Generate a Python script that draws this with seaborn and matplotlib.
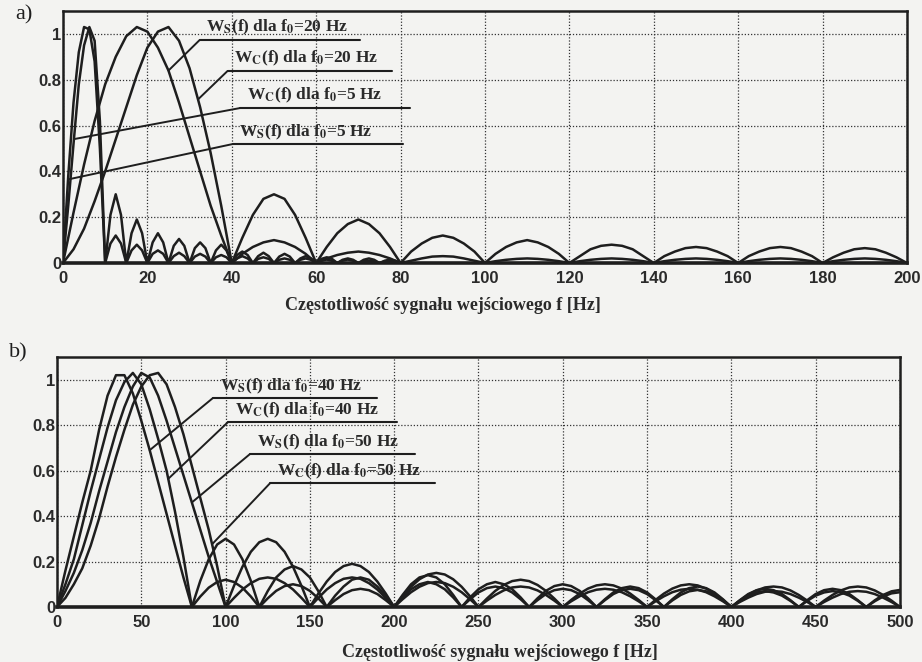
import numpy as np
import matplotlib
matplotlib.use('Agg')
import matplotlib.pyplot as plt
import seaborn as sns

# --- panel a): f0 = 20 Hz, sampled every 2.5 Hz from 0 to 200 Hz
f_a20 = np.arange(0, 200.1, 2.5)
ws_20 = [
    0, 0.22, 0.43, 0.62, 0.78, 0.9, 0.99, 1.03, 1.01, 0.94, 0.84, 0.7, 0.55, 0.4, 0.25, 0.12, 0,
    0.11, 0.21, 0.28, 0.30, 0.28, 0.21, 0.11, 0,
    0.07, 0.13, 0.17, 0.19, 0.17, 0.13, 0.07, 0,
    0.05, 0.085, 0.11, 0.12, 0.11, 0.085, 0.05, 0,
    0.04, 0.07, 0.09, 0.10, 0.09, 0.07, 0.04, 0,
    0.03, 0.06, 0.075, 0.08, 0.075, 0.06, 0.03, 0,
    0.03, 0.05, 0.065, 0.07, 0.065, 0.05, 0.03, 0,
    0.03, 0.05, 0.065, 0.07, 0.065, 0.05, 0.03, 0,
    0.025, 0.045, 0.06, 0.065, 0.06, 0.045, 0.025, 0,
]
wc_20 = [
    0, 0.06, 0.15, 0.27, 0.4, 0.54, 0.68, 0.82, 0.94, 1.01, 1.03, 0.97, 0.85, 0.68, 0.48, 0.25, 0,
    0.04, 0.07, 0.09, 0.10, 0.09, 0.07, 0.04, 0,
    0.02, 0.035, 0.045, 0.05, 0.045, 0.035, 0.02, 0,
    0.01, 0.02, 0.028, 0.03, 0.028, 0.02, 0.01, 0,
    0.008, 0.014, 0.018, 0.02, 0.018, 0.014, 0.008, 0,
    0.008, 0.014, 0.018, 0.02, 0.018, 0.014, 0.008, 0,
    0.008, 0.014, 0.018, 0.02, 0.018, 0.014, 0.008, 0,
    0.008, 0.014, 0.018, 0.02, 0.018, 0.014, 0.008, 0,
    0.008, 0.014, 0.018, 0.02, 0.018, 0.014, 0.008, 0,
]

# --- panel a): f0 = 5 Hz, sampled every 1.25 Hz from 0 to 80 Hz
f_a5 = np.arange(0, 80.1, 1.25)
ws_5 = [
    0, 0.38, 0.7, 0.92, 1.03, 1.02, 0.88, 0.5, 0,
    0.21, 0.30, 0.21, 0,
    0.13, 0.19, 0.13, 0,
    0.09, 0.13, 0.09, 0,
    0.075, 0.105, 0.075, 0,
    0.065, 0.09, 0.065, 0,
    0.055, 0.08, 0.055, 0,
    0.035, 0.05, 0.035, 0,
    0.03, 0.045, 0.03, 0,
    0.028, 0.04, 0.028, 0,
    0.02, 0.03, 0.02, 0,
    0.018, 0.025, 0.018, 0,
    0.014, 0.02, 0.014, 0,
    0.014, 0.02, 0.014, 0,
    0.01, 0.015, 0.01, 0,
]
wc_5 = [
    0, 0.25, 0.52, 0.78, 0.95, 1.03, 0.97, 0.62, 0,
    0.085, 0.12, 0.085, 0,
    0.055, 0.08, 0.055, 0,
    0.04, 0.055, 0.04, 0,
    0.03, 0.045, 0.03, 0,
    0.028, 0.04, 0.028, 0,
    0.025, 0.035, 0.025, 0,
    0.02, 0.03, 0.02, 0,
    0.018, 0.025, 0.018, 0,
    0.014, 0.02, 0.014, 0,
    0.014, 0.02, 0.014, 0,
    0.01, 0.015, 0.01, 0,
    0.01, 0.015, 0.01, 0,
    0.007, 0.01, 0.007, 0,
    0.007, 0.01, 0.007, 0,
]

# --- panel b): f0 = 40 Hz and 50 Hz, sampled every 5 Hz from 0 to 500 Hz
f_b = np.arange(0, 500.1, 5)
ws_40 = [
    0, 0.16, 0.31, 0.46, 0.6, 0.78, 0.93, 1.02, 1.02, 0.94, 0.82, 0.69, 0.55, 0.41, 0.27, 0.13, 0,
    0.115, 0.21, 0.275, 0.30, 0.275, 0.21, 0.115, 0,
    0.07, 0.13, 0.165, 0.18, 0.165, 0.13, 0.07, 0,
    0.05, 0.09, 0.12, 0.13, 0.12, 0.09, 0.05, 0,
    0.053, 0.1, 0.13, 0.14, 0.13, 0.1, 0.053, 0,
    0.042, 0.078, 0.1, 0.11, 0.1, 0.078, 0.042, 0,
    0.038, 0.071, 0.092, 0.1, 0.092, 0.071, 0.038, 0,
    0.034, 0.064, 0.083, 0.09, 0.083, 0.064, 0.034, 0,
    0.034, 0.064, 0.083, 0.09, 0.083, 0.064, 0.034, 0,
    0.03, 0.057, 0.074, 0.08, 0.074, 0.057, 0.03, 0,
    0.03, 0.057, 0.074, 0.08, 0.074, 0.057, 0.03, 0,
    0.029, 0.053, 0.069, 0.075,
]
wc_40 = [
    0, 0.1, 0.21, 0.36, 0.51, 0.65, 0.79, 0.91, 0.99, 1.03, 0.98, 0.87, 0.74, 0.6, 0.42, 0.22, 0,
    0.046, 0.085, 0.11, 0.12, 0.11, 0.085, 0.046, 0,
    0.038, 0.071, 0.092, 0.1, 0.092, 0.071, 0.038, 0,
    0.03, 0.057, 0.074, 0.08, 0.074, 0.057, 0.03, 0,
    0.042, 0.078, 0.1, 0.11, 0.1, 0.078, 0.042, 0,
    0.034, 0.064, 0.083, 0.09, 0.083, 0.064, 0.034, 0,
    0.03, 0.057, 0.074, 0.08, 0.074, 0.057, 0.03, 0,
    0.03, 0.057, 0.074, 0.08, 0.074, 0.057, 0.03, 0,
    0.029, 0.053, 0.069, 0.075, 0.069, 0.053, 0.029, 0,
    0.027, 0.05, 0.064, 0.07, 0.064, 0.05, 0.027, 0,
    0.027, 0.05, 0.064, 0.07, 0.064, 0.05, 0.027, 0,
    0.025, 0.046, 0.06, 0.065,
]
ws_50 = [
    0, 0.07, 0.15, 0.25, 0.37, 0.51, 0.64, 0.77, 0.88, 0.97, 1.03,
    1.01, 0.93, 0.82, 0.7, 0.58, 0.46, 0.34, 0.22, 0.11, 0,
    0.093, 0.177, 0.243, 0.285, 0.30, 0.285, 0.243, 0.177, 0.093, 0,
    0.059, 0.112, 0.154, 0.18, 0.19, 0.18, 0.154, 0.112, 0.059, 0,
    0.047, 0.089, 0.122, 0.143, 0.15, 0.143, 0.122, 0.089, 0.047, 0,
    0.037, 0.071, 0.097, 0.114, 0.12, 0.114, 0.097, 0.071, 0.037, 0,
    0.031, 0.059, 0.081, 0.095, 0.1, 0.095, 0.081, 0.059, 0.031, 0,
    0.031, 0.059, 0.081, 0.095, 0.1, 0.095, 0.081, 0.059, 0.031, 0,
    0.028, 0.053, 0.073, 0.086, 0.09, 0.086, 0.073, 0.053, 0.028, 0,
    0.028, 0.053, 0.073, 0.086, 0.09, 0.086, 0.073, 0.053, 0.028, 0,
]
wc_50 = [
    0, 0.04, 0.1, 0.17, 0.27, 0.39, 0.53, 0.66, 0.78, 0.89, 0.97,
    1.02, 1.03, 0.98, 0.88, 0.76, 0.62, 0.48, 0.34, 0.18, 0,
    0.04, 0.077, 0.105, 0.124, 0.13, 0.124, 0.105, 0.077, 0.04, 0,
    0.04, 0.077, 0.105, 0.124, 0.13, 0.124, 0.105, 0.077, 0.04, 0,
    0.034, 0.065, 0.089, 0.105, 0.11, 0.105, 0.089, 0.065, 0.034, 0,
    0.028, 0.053, 0.073, 0.086, 0.09, 0.086, 0.073, 0.053, 0.028, 0,
    0.025, 0.047, 0.065, 0.076, 0.08, 0.076, 0.065, 0.047, 0.025, 0,
    0.025, 0.047, 0.065, 0.076, 0.08, 0.076, 0.065, 0.047, 0.025, 0,
    0.022, 0.041, 0.057, 0.067, 0.07, 0.067, 0.057, 0.041, 0.022, 0,
    0.022, 0.041, 0.057, 0.067, 0.07, 0.067, 0.057, 0.041, 0.022, 0,
]

xticks_a = list(range(0, 201, 20))
xticks_b = list(range(0, 501, 50))
yticks = [0, 0.2, 0.4, 0.6, 0.8, 1]
ytick_labels = ['0', '0.2', '0.4', '0.6', '0.8', '1']
xlabel = 'Częstotliwość sygnału wejściowego f [Hz]'

sns.set_theme(style='white')
plt.rcParams['font.family'] = ['Liberation Sans', 'DejaVu Sans']
plt.rcParams['mathtext.fontset'] = 'stix'

paper = '#f3f3f1'
ink = '#1e1e1e'
serif = ['Liberation Serif', 'DejaVu Serif']

fig = plt.figure(figsize=(9.22, 6.62), dpi=100, facecolor=paper)
ax_a = fig.add_axes([0.0683, 0.6027, 0.9154, 0.3807])
ax_b = fig.add_axes([0.0618, 0.0831, 0.9143, 0.3776])


def style_axes(ax, xticks, xmax, label_x, label_y):
    ax.set_facecolor(paper)
    ax.set_xlim(0, xmax)
    ax.set_ylim(0, 1.1)
    ax.set_xticks(xticks)
    ax.set_xticklabels([str(t) for t in xticks])
    ax.set_yticks(yticks)
    ax.set_yticklabels(ytick_labels)
    ax.grid(True, color='#333333', linestyle=(0, (1, 1.5)), linewidth=0.9)
    ax.tick_params(direction='in', length=4, width=1, colors=ink, labelsize=12)
    ax.tick_params(axis='x', pad=6)
    ax.tick_params(axis='y', pad=1)
    for t in ax.get_xticklabels() + ax.get_yticklabels():
        t.set_fontweight('bold')
        t.set_color('#2a2a2a')
    for side in ['top', 'right', 'left']:
        ax.spines[side].set_linewidth(1.8)
        ax.spines[side].set_color(ink)
    ax.spines['bottom'].set_linewidth(2.6)
    ax.spines['bottom'].set_color(ink)
    ax.set_xlabel(xlabel, family=serif, fontsize=13, fontweight='bold', color='#2a2a2a')
    ax.xaxis.set_label_coords(label_x, label_y)
    ax.set_ylabel('')


def curve(ax, f, w):
    sns.lineplot(x=f, y=w, ax=ax, color=ink, linewidth=1.8, estimator=None, sort=False)


def label(ax, text, x0, x1, y, f_tip, f, w):
    # podpis z podkreśleniem i odnośnikiem do krzywej
    ax.plot([x0, x1], [y, y], transform=ax.transAxes, color=ink, linewidth=1.5, clip_on=False)
    ax.text(x0 + 0.008, y + 0.01, text, transform=ax.transAxes, family=serif,
            fontsize=12.5, fontweight='bold', color='#2a2a2a', ha='left', va='bottom')
    ax.annotate('', xy=(f_tip, np.interp(f_tip, f, w)), xycoords='data',
                xytext=(x0, y), textcoords='axes fraction',
                arrowprops=dict(arrowstyle='-', color=ink, linewidth=1.4, shrinkA=0, shrinkB=0))


# panel a)
style_axes(ax_a, xticks_a, 200, 0.45, -0.135)
curve(ax_a, f_a20, ws_20)
curve(ax_a, f_a20, wc_20)
curve(ax_a, f_a5, ws_5)
curve(ax_a, f_a5, wc_5)
label(ax_a, r'W$_\mathbf{S}$(f) dla f$_\mathbf{0}$=20 Hz', 0.162, 0.352, 0.885, 25, f_a20, ws_20)
label(ax_a, r'W$_\mathbf{C}$(f) dla f$_\mathbf{0}$=20 Hz', 0.195, 0.390, 0.762, 32, f_a20, wc_20)
label(ax_a, r'W$_\mathbf{C}$(f) dla f$_\mathbf{0}$=5 Hz', 0.210, 0.411, 0.615, 2.6, f_a5, wc_5)
label(ax_a, r'W$_\mathbf{S}$(f) dla f$_\mathbf{0}$=5 Hz', 0.201, 0.403, 0.472, 1.2, f_a5, ws_5)

# panel b)
style_axes(ax_b, xticks_b, 500, 0.525, -0.15)
curve(ax_b, f_b, ws_40)
curve(ax_b, f_b, wc_40)
curve(ax_b, f_b, ws_50)
curve(ax_b, f_b, wc_50)
label(ax_b, r'W$_\mathbf{S}$(f) dla f$_\mathbf{0}$=40 Hz', 0.185, 0.380, 0.836, 55, f_b, ws_40)
label(ax_b, r'W$_\mathbf{C}$(f) dla f$_\mathbf{0}$=40 Hz', 0.203, 0.403, 0.740, 66, f_b, wc_40)
label(ax_b, r'W$_\mathbf{S}$(f) dla f$_\mathbf{0}$=50 Hz', 0.229, 0.425, 0.612, 80, f_b, ws_50)
label(ax_b, r'W$_\mathbf{C}$(f) dla f$_\mathbf{0}$=50 Hz', 0.253, 0.448, 0.496, 92, f_b, wc_50)

fig.text(0.016, 0.977, 'a)', family=serif, fontsize=16, color=ink, va='center')
fig.text(0.010, 0.467, 'b)', family=serif, fontsize=16, color=ink, va='center')

fig.savefig('out.png', dpi=100, facecolor=paper)
